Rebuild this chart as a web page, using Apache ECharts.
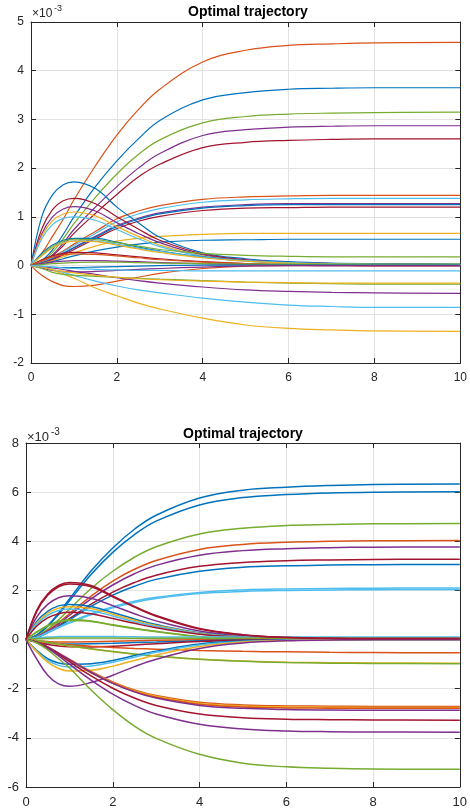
<!DOCTYPE html>
<html><head><meta charset="utf-8">
<script src="https://cdn.jsdelivr.net/npm/echarts@6/dist/echarts.min.js"></script>
<style>html,body{margin:0;padding:0;background:#fff}#c{width:470px;height:812px}</style>
</head><body><div id="c"></div><script>
// time samples (s)
const T = [0,0.25,0.5,0.75,1,1.5,2,2.5,3,4,5,6,7,8,10];
const xTicks = [0,2,4,6,8,10];
const topYTicks = [-2,-1,0,1,2,3,4,5];
const botYTicks = [-6,-4,-2,0,2,4,6,8];

// ---- top panel (values ×1e-3) ----
const t_orange_hi = [0,0.25,0.6,0.95,1.35,2.05,2.68,3.2,3.62,4.18,4.42,4.52,4.55,4.57,4.58];
const t_blue_hi   = [0,0.1,0.32,0.64,1.0,1.62,2.15,2.6,2.98,3.4,3.55,3.62,3.64,3.65,3.65];
const t_green_hi  = [0,0.08,0.27,0.55,0.86,1.4,1.88,2.28,2.58,2.93,3.06,3.11,3.13,3.14,3.15];
const t_purple_hi = [0,0.07,0.22,0.46,0.74,1.2,1.62,2.0,2.3,2.67,2.79,2.84,2.86,2.87,2.87];
const t_maroon_hi = [0,0.06,0.2,0.41,0.66,1.07,1.46,1.82,2.08,2.42,2.53,2.57,2.59,2.6,2.6];
const t_orange_mid = [0,0.07,0.17,0.3,0.44,0.7,0.96,1.12,1.23,1.36,1.41,1.43,1.44,1.44,1.44];
const t_cyan_mid   = [0,0.06,0.16,0.28,0.41,0.66,0.9,1.06,1.17,1.3,1.35,1.37,1.38,1.38,1.38];
const t_purple_mid = [0,0.05,0.14,0.25,0.37,0.6,0.82,0.97,1.08,1.2,1.25,1.27,1.27,1.27,1.27];
const t_blue_mid   = [0,0.05,0.13,0.24,0.36,0.58,0.8,0.95,1.06,1.18,1.23,1.25,1.25,1.25,1.25];
const t_maroon_mid = [0,0.04,0.12,0.22,0.33,0.55,0.76,0.91,1.01,1.13,1.18,1.19,1.2,1.2,1.2];
const t_yellow_mid = [0,0.04,0.1,0.18,0.26,0.4,0.5,0.56,0.6,0.64,0.66,0.66,0.66,0.66,0.66];
const t_blue_low   = [0,0.03,0.08,0.14,0.2,0.3,0.38,0.44,0.48,0.52,0.53,0.54,0.54,0.54,0.54];
const t_blue_hump   = [0,1.0,1.45,1.66,1.72,1.58,1.2,0.88,0.58,0.26,0.14,0.08,0.05,0.04,0.03];
const t_maroon_hump = [0,0.75,1.15,1.33,1.38,1.27,1.0,0.75,0.52,0.24,0.12,0.06,0.04,0.03,0.02];
const t_purple_hump = [0,0.65,1.0,1.16,1.21,1.12,0.88,0.66,0.47,0.22,0.11,0.06,0.04,0.03,0.02];
const t_yellow_hump = [0,0.6,0.92,1.06,1.1,1.02,0.8,0.6,0.42,0.2,0.1,0.05,0.03,0.02,0.01];
const t_cyan_hump   = [0,0.55,0.84,0.97,1.0,0.93,0.74,0.55,0.39,0.19,0.09,0.05,0.03,0.02,0.01];
const t_blue_small  = [0,0.25,0.42,0.52,0.56,0.56,0.48,0.38,0.3,0.18,0.1,0.06,0.04,0.03,0.02];
const t_green_small = [0,0.22,0.4,0.5,0.54,0.53,0.47,0.4,0.33,0.25,0.21,0.19,0.18,0.18,0.18];
const t_cyan_small  = [0,0.2,0.37,0.47,0.51,0.5,0.44,0.36,0.29,0.17,0.1,0.06,0.04,0.03,0.02];
const t_yellow_small= [0,0.2,0.36,0.46,0.5,0.49,0.42,0.34,0.27,0.16,0.09,0.05,0.03,0.02,0.01];
const t_maroon_tiny = [0,0.12,0.2,0.25,0.27,0.26,0.22,0.18,0.14,0.08,0.04,0.02,0.01,0.0,0.0];
const t_orange_tiny = [0,0.1,0.18,0.22,0.24,0.23,0.2,0.16,0.12,0.07,0.04,0.02,0.01,0.0,0.0];
const t_purple_tiny = [0,0.04,0.07,0.09,0.1,0.1,0.09,0.08,0.06,0.04,0.02,0.01,0,0,0];
const t_green_tiny  = [0,0.02,0.04,0.05,0.06,0.07,0.07,0.06,0.05,0.04,0.03,0.03,0.03,0.03,0.03];
const t_blue_tiny   = [0,-0.02,-0.03,-0.04,-0.04,-0.03,-0.02,-0.01,0,0.01,0.01,0.01,0.01,0.01,0.01];
const t_orange_dip  = [0,-0.2,-0.33,-0.41,-0.43,-0.4,-0.32,-0.24,-0.16,-0.06,-0.01,0,0,0,0];
const t_purple_dip  = [0,-0.05,-0.1,-0.12,-0.13,-0.12,-0.1,-0.08,-0.06,-0.03,-0.01,0,0,0,0];
const t_yellow_neg  = [0,-0.02,-0.09,-0.17,-0.26,-0.46,-0.62,-0.77,-0.89,-1.08,-1.22,-1.29,-1.32,-1.34,-1.35];
const t_cyan_neg    = [0,-0.03,-0.08,-0.14,-0.2,-0.32,-0.42,-0.5,-0.56,-0.67,-0.75,-0.81,-0.84,-0.86,-0.86];
const t_purple_neg  = [0,-0.02,-0.05,-0.08,-0.12,-0.18,-0.25,-0.31,-0.36,-0.44,-0.5,-0.53,-0.55,-0.56,-0.57];
const t_green_neg   = [0,-0.06,-0.14,-0.18,-0.2,-0.22,-0.24,-0.26,-0.28,-0.31,-0.34,-0.36,-0.37,-0.38,-0.38];
const t_yellow_neg2 = [0,-0.03,-0.08,-0.12,-0.15,-0.2,-0.24,-0.27,-0.29,-0.32,-0.34,-0.35,-0.36,-0.36,-0.36];
const t_cyan_neg2   = [0,-0.01,-0.03,-0.05,-0.06,-0.08,-0.09,-0.1,-0.1,-0.11,-0.11,-0.11,-0.11,-0.11,-0.11];

// ---- bottom panel (values ×1e-3) ----
const b_blue1   = [0,0.19,0.57,1.08,1.65,2.79,3.73,4.49,5.06,5.76,6.08,6.2,6.27,6.31,6.33];
const b_blue2   = [0,0.18,0.54,1.02,1.57,2.65,3.55,4.27,4.82,5.48,5.78,5.9,5.97,6.0,6.02];
const b_green1  = [0,0.14,0.42,0.8,1.23,2.08,2.78,3.35,3.78,4.3,4.53,4.64,4.68,4.71,4.72];
const b_orange1 = [0,0.12,0.36,0.69,1.05,1.77,2.38,2.86,3.22,3.67,3.87,3.96,4.0,4.02,4.03];
const b_purple1 = [0,0.11,0.34,0.64,0.98,1.66,2.22,2.68,3.02,3.43,3.62,3.7,3.74,3.76,3.77];
const b_maroon1 = [0,0.1,0.29,0.56,0.85,1.44,1.93,2.32,2.62,2.98,3.14,3.21,3.24,3.26,3.27];
const b_blue3   = [0,0.09,0.28,0.52,0.8,1.35,1.81,2.17,2.45,2.78,2.94,3.0,3.03,3.05,3.06];
const b_cyan1   = [0,0.1,0.3,0.5,0.7,1.05,1.34,1.56,1.72,1.92,2.02,2.06,2.08,2.09,2.1];
const b_cyan2   = [0,0.09,0.28,0.48,0.67,1.01,1.29,1.51,1.67,1.87,1.96,2.0,2.02,2.03,2.04];
const b_maroon2 = [0,1.2,1.85,2.2,2.32,2.2,1.78,1.35,0.98,0.45,0.2,0.09,0.05,0.04,0.04];
const b_maroon3 = [0,1.15,1.8,2.15,2.26,2.15,1.74,1.32,0.95,0.43,0.19,0.08,0.05,0.04,0.04];
const b_purple2 = [0,0.92,1.43,1.7,1.78,1.68,1.38,1.05,0.76,0.35,0.16,0.07,0.04,0.03,0.03];
const b_blue4   = [0,0.74,1.15,1.37,1.43,1.35,1.1,0.84,0.61,0.28,0.12,0.06,0.03,0.02,0.02];
const b_yellow1 = [0,0.68,1.07,1.28,1.34,1.26,1.03,0.79,0.57,0.26,0.11,0.05,0.03,0.02,0.02];
const b_cyan3   = [0,0.62,0.98,1.18,1.24,1.17,0.96,0.73,0.53,0.24,0.1,0.05,0.03,0.02,0.02];
const b_maroon4 = [0,0.55,0.88,1.05,1.11,1.05,0.86,0.66,0.48,0.22,0.1,0.04,0.02,0.01,0.01];
const b_green2  = [0,0.32,0.58,0.74,0.82,0.76,0.6,0.46,0.34,0.12,0.05,0.03,0.03,0.03,0.03];
const b_green3  = [0,0.3,0.55,0.7,0.78,0.74,0.58,0.44,0.32,0.11,0.05,0.03,0.02,0.02,0.02];
const b_cyan4   = [0,0.06,0.1,0.12,0.13,0.13,0.12,0.11,0.1,0.1,0.1,0.1,0.1,0.1,0.1];
const b_green4  = [0,0.03,0.05,0.06,0.06,0.06,0.06,0.05,0.05,0.05,0.05,0.05,0.05,0.05,0.05];
const b_orange2 = [0,-0.04,-0.08,-0.1,-0.1,-0.09,-0.07,-0.05,-0.03,-0.01,0,0,0,0,0];
const b_blue5   = [0,-0.08,-0.14,-0.17,-0.18,-0.17,-0.15,-0.12,-0.1,-0.05,-0.02,-0.01,0,0,0];
const b_maroon5 = [0,-0.1,-0.2,-0.26,-0.29,-0.3,-0.27,-0.22,-0.17,-0.08,-0.03,-0.01,0,0,0];
const b_orange3 = [0,-0.06,-0.12,-0.17,-0.21,-0.27,-0.32,-0.36,-0.39,-0.44,-0.48,-0.5,-0.52,-0.53,-0.54];
const b_yellow2 = [0,-0.05,-0.12,-0.19,-0.26,-0.38,-0.5,-0.6,-0.68,-0.8,-0.87,-0.92,-0.94,-0.95,-0.96];
const b_green5  = [0,-0.04,-0.11,-0.18,-0.25,-0.37,-0.49,-0.59,-0.67,-0.8,-0.88,-0.93,-0.96,-0.97,-0.98];
const b_blue6   = [0,-0.45,-0.78,-0.95,-1.0,-0.98,-0.85,-0.65,-0.47,-0.18,-0.06,-0.02,0,0,0];
const b_cyan5   = [0,-0.48,-0.85,-1.05,-1.12,-1.08,-0.92,-0.72,-0.52,-0.22,-0.08,-0.03,0,0,0];
const b_yellow3 = [0,-0.5,-0.92,-1.18,-1.28,-1.25,-1.08,-0.85,-0.63,-0.28,-0.1,-0.04,-0.01,0,0];
const b_purple4 = [0,-0.8,-1.45,-1.8,-1.9,-1.75,-1.45,-1.1,-0.8,-0.36,-0.14,-0.05,-0.02,0,0];
const b_orange4 = [0,-0.1,-0.3,-0.55,-0.8,-1.3,-1.72,-2.05,-2.28,-2.55,-2.66,-2.7,-2.71,-2.72,-2.72];
const b_yellow4 = [0,-0.1,-0.3,-0.56,-0.82,-1.32,-1.75,-2.08,-2.31,-2.59,-2.7,-2.74,-2.75,-2.76,-2.76];
const b_orange5 = [0,-0.11,-0.32,-0.58,-0.84,-1.35,-1.78,-2.11,-2.35,-2.63,-2.74,-2.78,-2.79,-2.8,-2.8];
const b_purple5 = [0,-0.1,-0.3,-0.55,-0.82,-1.33,-1.78,-2.13,-2.38,-2.68,-2.8,-2.85,-2.87,-2.88,-2.88];
const b_maroon6 = [0,-0.11,-0.33,-0.6,-0.9,-1.48,-1.98,-2.38,-2.68,-3.03,-3.18,-3.24,-3.26,-3.27,-3.28];
const b_purple6 = [0,-0.12,-0.36,-0.66,-1.0,-1.65,-2.22,-2.68,-3.03,-3.45,-3.64,-3.72,-3.75,-3.76,-3.77];
const b_green6  = [0,-0.14,-0.42,-0.78,-1.15,-2.05,-2.85,-3.52,-4.02,-4.67,-5.03,-5.18,-5.24,-5.27,-5.28];

// MATLAB default colour order
const COL = {blue:'#0072BD', orange:'#D95319', yellow:'#EDB120', purple:'#7E2F8E', green:'#77AC30', cyan:'#4DBEEE', maroon:'#A2142F'};

const topLines = [
  ['orange',t_orange_hi],['blue',t_blue_hi],['green',t_green_hi],['purple',t_purple_hi],['maroon',t_maroon_hi],
  ['orange',t_orange_mid],['cyan',t_cyan_mid],['purple',t_purple_mid],['blue',t_blue_mid],['maroon',t_maroon_mid],
  ['yellow',t_yellow_mid],['blue',t_blue_low],
  ['blue',t_blue_hump],['maroon',t_maroon_hump],['purple',t_purple_hump],['yellow',t_yellow_hump],['cyan',t_cyan_hump],
  ['blue',t_blue_small],['green',t_green_small],['cyan',t_cyan_small],['yellow',t_yellow_small],
  ['maroon',t_maroon_tiny],['orange',t_orange_tiny],['purple',t_purple_tiny],['green',t_green_tiny],['blue',t_blue_tiny],
  ['orange',t_orange_dip],['purple',t_purple_dip],
  ['yellow',t_yellow_neg],['cyan',t_cyan_neg],['purple',t_purple_neg],['green',t_green_neg],['yellow',t_yellow_neg2],['cyan',t_cyan_neg2]
];
const botLines = [
  ['blue',b_blue1],['blue',b_blue2],['green',b_green1],['orange',b_orange1],['purple',b_purple1],['maroon',b_maroon1],['blue',b_blue3],
  ['cyan',b_cyan1],['cyan',b_cyan2],
  ['purple',b_purple2],['blue',b_blue4],['yellow',b_yellow1],['cyan',b_cyan3],['maroon',b_maroon4],['green',b_green2],['green',b_green3],
  ['cyan',b_cyan4],['green',b_green4],['orange',b_orange2],['blue',b_blue5],['maroon',b_maroon5],
  ['orange',b_orange3],['yellow',b_yellow2],['green',b_green5],
  ['blue',b_blue6],['cyan',b_cyan5],['yellow',b_yellow3],['purple',b_purple4],
  ['orange',b_orange4],['yellow',b_yellow4],['orange',b_orange5],['purple',b_purple5],['maroon',b_maroon6],['purple',b_purple6],['green',b_green6],
  ['maroon',b_maroon2],['maroon',b_maroon3]
];

const FONT = '"Liberation Sans", Arial, Helvetica, sans-serif';
const INK = '#262626';
const GRIDC = '#e2e2e2';

function mkSeries(list, axisIdx, width) {
  return list.map(([c, v]) => ({
    type: 'line', xAxisIndex: axisIdx, yAxisIndex: axisIdx,
    data: T.map((t, i) => [t, v[i]]),
    showSymbol: false, symbol: 'none', smooth: 0.4,
    lineStyle: { color: COL[c], width: width }, itemStyle: { color: COL[c] },
    silent: true, animation: false, clip: true
  }));
}

function xAxes(gi, fs) {
  const base = { gridIndex: gi, type: 'value', min: xTicks[0], max: xTicks[xTicks.length-1], interval: xTicks[1]-xTicks[0] };
  return [
    Object.assign({}, base, { position: 'bottom',
      axisLine: { show: true, onZero: false, lineStyle: { color: INK, width: 1 } },
      axisTick: { show: true, inside: true, length: 5, lineStyle: { color: INK } },
      axisLabel: { show: true, color: INK, fontSize: fs, fontFamily: FONT, margin: 9 },
      splitLine: { show: true, lineStyle: { color: GRIDC, width: 1 } } }),
    Object.assign({}, base, { position: 'top',
      axisLine: { show: true, onZero: false, lineStyle: { color: INK, width: 1 } },
      axisTick: { show: true, inside: true, length: 5, lineStyle: { color: INK } },
      axisLabel: { show: false }, splitLine: { show: false } })
  ];
}
function yAxes(gi, ticks, fs) {
  const base = { gridIndex: gi, type: 'value', min: ticks[0], max: ticks[ticks.length-1], interval: ticks[1]-ticks[0] };
  return [
    Object.assign({}, base, { position: 'left',
      axisLine: { show: true, onZero: false, lineStyle: { color: INK, width: 1 } },
      axisTick: { show: true, inside: true, length: 5, lineStyle: { color: INK } },
      axisLabel: { show: true, color: INK, fontSize: fs, fontFamily: FONT, margin: 7 },
      splitLine: { show: true, lineStyle: { color: GRIDC, width: 1 } } }),
    Object.assign({}, base, { position: 'right',
      axisLine: { show: true, onZero: false, lineStyle: { color: INK, width: 1 } },
      axisTick: { show: true, inside: true, length: 5, lineStyle: { color: INK } },
      axisLabel: { show: false }, splitLine: { show: false } })
  ];
}

const chart = echarts.init(document.getElementById('c'), null, { renderer: 'canvas' });
chart.setOption({
  backgroundColor: '#ffffff',
  animation: false,
  grid: [
    { left: 31, top: 22, width: 434, height: 341 },
    { left: 26, top: 443, width: 435, height: 344 }
  ],
  xAxis: [].concat(xAxes(0, 12), xAxes(1, 13)),
  yAxis: [].concat(yAxes(0, topYTicks, 12), yAxes(1, botYTicks, 13)),
  series: [].concat(mkSeries(topLines, 0, 1.2), mkSeries(botLines, 2, 1.5)),
  graphic: [
    { type: 'text', x: 248, y: 12, style: { text: 'Optimal trajectory', font: 'bold 14px ' + FONT, fill: '#000', align: 'center', verticalAlign: 'middle' } },
    { type: 'text', x: 243, y: 434, style: { text: 'Optimal trajectory', font: 'bold 14px ' + FONT, fill: '#000', align: 'center', verticalAlign: 'middle' } },
    { type: 'text', x: 32, y: 14, style: { text: '×10', font: '12px ' + FONT, fill: INK, align: 'left', verticalAlign: 'middle' } },
    { type: 'text', x: 54, y: 9, style: { text: '-3', font: '9px ' + FONT, fill: INK, align: 'left', verticalAlign: 'middle' } },
    { type: 'text', x: 27, y: 437, style: { text: '×10', font: '13px ' + FONT, fill: INK, align: 'left', verticalAlign: 'middle' } },
    { type: 'text', x: 51, y: 432, style: { text: '-3', font: '10px ' + FONT, fill: INK, align: 'left', verticalAlign: 'middle' } }
  ]
});
</script></body></html>
